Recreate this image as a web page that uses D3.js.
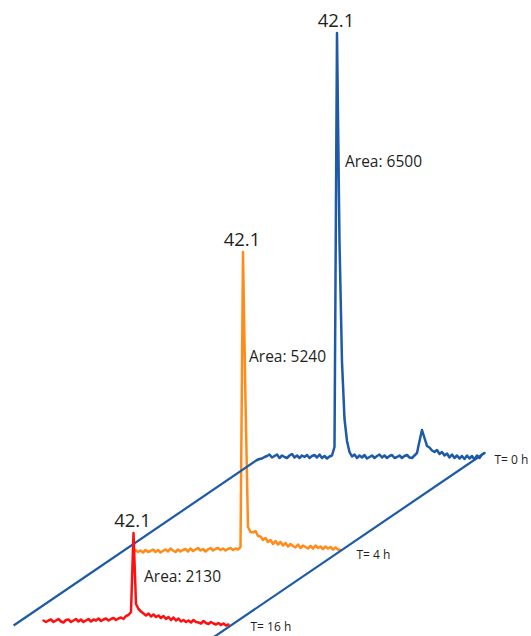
<!DOCTYPE html>
<html>
<head>
<meta charset="utf-8">
<script src="https://cdn.jsdelivr.net/npm/d3@7"></script>
<style>
  html, body { margin: 0; padding: 0; background: #fff; }
  svg { display: block; }
</style>
</head>
<body>
<svg id="chart" width="531" height="636"></svg>
<script>
// ---- Chromatogram data (HPLC traces of the same sample stored for 0, 4 and 16 h) ----
const timeLabels = ["T= 0 h", "T= 4 h", "T= 16 h"];
const peakRetention = 42.1;            // min, main peak
const peakAreas = [6500, 5240, 2130];   // integrated area of the 42.1 min peak
const sampleInterval = 0.25;            // min between detector samples
const startTimes = [34.1, 31.1, 33.1];  // first recorded time of each trace, min

// detector signal (mAU), one value per sample
const signal0h = [
  -3, -2, -1.5, 0, 1, 2.5, -0.5, 1, 2.5, -1,
  1.5, 0, -1, 1.5, 3, -0.5, 1.5, -1, 1.5, 0,
  2, -1, 1, 2, -0.5, 2.5, -1, 1, -1.5, 0.5,
  1.5, 10, 424, 215, 95, 38, 16, 5, 0.5, 2.5,
  -1, 1.5, -0.5, 2, -1.5, 0, 1.5, -1, 1, 2.5,
  -0.5, 1.5, -1, 1, 2, -1, 0, 1.5, -1, 1,
  2, -0.5, -1, 1.5, 4, 16, 27, 19, 11, 9.5,
  6.5, 5, 7, 3, 5, 1.5, 3.5, -0.5, 2.5, -1,
  1.5, -1.5, 1, -2, 1.5, -1.5, 1, -2.5, 1.5, -1,
  2.5, 4
];
const signal4h = [
  -1, 1, -1, 0.5, -1.5, 1, -1, 0, 1.5, -1,
  1, -1.5, 0, 1.5, -0.5, 2.5, 0.5, -1, 1.5, -0.5,
  1, 2, -0.5, 2.5, 0, 1.5, 3, 0.5, 2, -0.5,
  1.5, 3, 0.5, 2, 3, 1, 2.5, 0.5, 2, 3,
  1, 2.5, 1.5, 4, 299, 150, 24, 19, 18.5, 20,
  15, 14.5, 11, 13, 9, 11, 7, 10, 6.5, 9,
  5.5, 8, 4.5, 7, 5, 3.5, 6.5, 3, 5.5, 4,
  2.5, 5, 2.5, 5.5, 3, 4.5, 2, 4.5, 2.5, 4,
  1.5, 3.5, 1.5, 1
];
const signal16h = [
  0.5, -1, 0.5, 1.5, -1, 0.5, 2, -0.5, -1.5, 1,
  1.5, -1, 0.5, 2, -0.5, 1.5, -1, 0.5, 2, -0.5,
  1.5, 0.5, 2.5, 0, 1.5, 2.5, 0.5, 2, 3, 1,
  2.5, 3.5, 2, 5, 6, 9, 88, 17, 12, 9.5,
  7.5, 5.5, 7.5, 4.5, 6.5, 4, 5.5, 3, 5, 2,
  4, 1, 3.5, 0.5, 2.5, -0.5, 1, -1, 0.5, -1.5,
  1, -1, -1.5, -2.5, 0, -2, -3, -1, -2.5, -3.5,
  -2, -4, -2.5, -4.5, -3.5
];
const signals = [signal0h, signal4h, signal16h];

// ---- Layout of the pseudo-3D stack (back trace first) ----
const colors = ["#1d5aa7", "#ff8c1a", "#ff1010"];
const floorColor = "#1d5aa7";
const traceLayout = [
  { dx: 216,  baseY: 457, areaDx: 8,    areaY: 167, tagDx: 10, tagDy: 7 },
  { dx: 122,  baseY: 551, areaDx: 6,    areaY: 362, tagDx: 16, tagDy: 8 },
  { dx: 12.5, baseY: 621, areaDx: 10.5, areaY: 582, tagDx: 22, tagDy: 10 }
];
const floorSlope = 0.68;                 // rise of the depth direction per px
const floorFrontY = [625.5, 640];        // where the two floor edges end at the front

const font = "'Open Sans', 'Noto Sans', sans-serif";
const textColor = "#231f20";

const svg = d3.select("#chart");

// retention time -> horizontal px, detector signal -> vertical px
const x = d3.scaleLinear().domain([30, 60]).range([0, 300]);
const y = d3.scaleLinear().domain([0, 450]).range([0, -450]);

const traces = signals.map((vals, k) => vals.map((v, i) => ({
  t: startTimes[k] + i * sampleInterval,
  v: v
})));

function px(k) { return d => traceLayout[k].dx + x(d.t); }
function py(k) { return d => traceLayout[k].baseY + y(d.v); }

const gFloor = svg.append("g");
const gBack = svg.append("g");
const gFront = svg.append("g");

// floor edges of the stack, anchored at the ends of the back trace
const back = traces[0];
const backEnds = [back[0], back[back.length - 1]];
backEnds.forEach((d, j) => {
  const x0 = px(0)(d), y0 = py(0)(d);
  const y1 = floorFrontY[j];
  const x1 = x0 - (y1 - y0) / floorSlope;
  gFloor.append("line")
    .attr("x1", x0).attr("y1", y0)
    .attr("x2", x1).attr("y2", y1)
    .attr("stroke", floorColor)
    .attr("stroke-width", 2.2);
});

traces.forEach((data, k) => {
  const layer = k === 2 ? gFront : gBack;
  const line = d3.line().x(px(k)).y(py(k));
  layer.append("path")
    .datum(data)
    .attr("d", line)
    .attr("fill", "none")
    .attr("stroke", colors[k])
    .attr("stroke-width", 2.5)
    .attr("stroke-linejoin", "round")
    .attr("stroke-linecap", "round");

  const apex = data.reduce((a, b) => (b.v > a.v ? b : a));
  const last = data[data.length - 1];
  const L = traceLayout[k];

  // retention time above the peak
  layer.append("text")
    .attr("x", px(k)(apex) - 1)
    .attr("y", py(k)(apex) - 6)
    .attr("text-anchor", "middle")
    .attr("font-family", font)
    .attr("font-size", 18.5)
    .attr("fill", textColor)
    .text(d3.format(".1f")(peakRetention));

  // peak area
  layer.append("text")
    .attr("x", px(k)(apex) + L.areaDx)
    .attr("y", L.areaY)
    .attr("font-family", font)
    .attr("font-size", 15.5)
    .attr("fill", textColor)
    .text("Area: " + peakAreas[k]);

  // storage time tag at the end of the trace
  layer.append("text")
    .attr("x", px(k)(last) + L.tagDx)
    .attr("y", L.baseY + L.tagDy)
    .attr("font-family", font)
    .attr("font-size", 12)
    .attr("fill", textColor)
    .text(timeLabels[k]);
});

gFloor.lower();
gBack.lower();
</script>
</body>
</html>
